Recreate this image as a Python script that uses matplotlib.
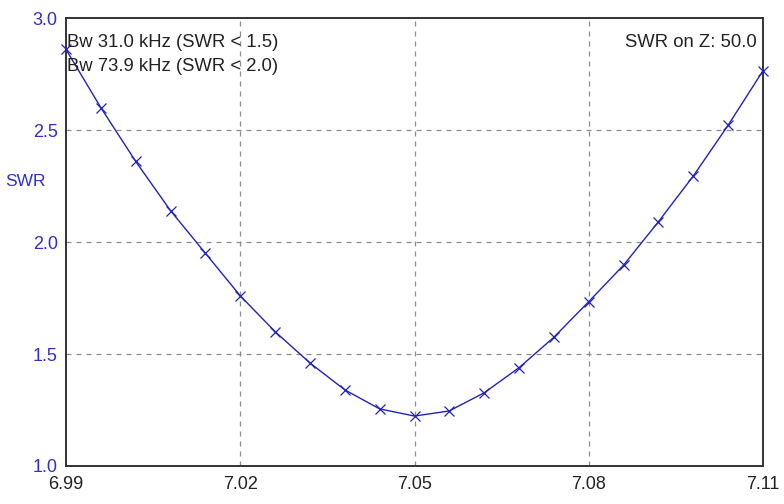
import matplotlib.pyplot as plt

# SWR sweep (MHz, SWR)
freq = [6.990, 6.996, 7.002, 7.008, 7.014, 7.020, 7.026, 7.032, 7.038, 7.044,
        7.050, 7.056, 7.062, 7.068, 7.074, 7.080, 7.086, 7.092, 7.098, 7.104, 7.110]
swr = [2.86, 2.60, 2.36, 2.14, 1.95, 1.76, 1.60, 1.46, 1.34, 1.255,
       1.223, 1.246, 1.327, 1.439, 1.575, 1.734, 1.897, 2.091, 2.295, 2.522, 2.765]

x_ticks = [6.99, 7.02, 7.05, 7.08, 7.11]
y_ticks = [1.0, 1.5, 2.0, 2.5, 3.0]

bw_lines = ['Bw 31.0 kHz (SWR < 1.5)', 'Bw 73.9 kHz (SWR < 2.0)']
z_text = 'SWR on Z: 50.0'

line_col = '#2222b8'
label_col = '#3030c8'

plt.rcParams['font.family'] = ['Liberation Sans', 'DejaVu Sans']

fig = plt.figure(figsize=(7.84, 5.04), dpi=100)
ax = fig.add_axes([0.0842, 0.0754, 0.8890, 0.8886])

ax.plot(freq, swr, color=line_col, linewidth=1.0, marker='x', markersize=7,
        markeredgewidth=0.9, clip_on=False, zorder=3)

ax.set_xlim(6.99, 7.11)
ax.set_ylim(1.0, 3.0)
ax.set_xticks(x_ticks)
ax.set_xticklabels(['%.2f' % v for v in x_ticks])
ax.set_yticks(y_ticks)
ax.set_yticklabels(['%.1f' % v for v in y_ticks])
ax.tick_params(axis='both', length=0, labelsize=13)
ax.tick_params(axis='x', pad=7, colors='#222222')
ax.tick_params(axis='y', pad=6, labelcolor=label_col)

# grid only on inner ticks
for xv in x_ticks[1:-1]:
    ax.axvline(xv, color='#8c8c8c', linestyle=(0, (4, 4)), linewidth=0.9, zorder=1)
for yv in y_ticks[1:-1]:
    ax.axhline(yv, color='#8c8c8c', linestyle=(0, (4, 4)), linewidth=0.9, zorder=1)

for s in ax.spines.values():
    s.set_color('#333333')
    s.set_linewidth(1.4)

fig.text(25 / 784, 1 - 181 / 504, 'SWR', color=label_col, fontsize=12.5,
         ha='center', va='center')

ax.text(0.002, 0.935, bw_lines[0], transform=ax.transAxes, ha='left',
        va='baseline', fontsize=13.3, color='#222222', zorder=4)
ax.text(0.002, 0.882, bw_lines[1], transform=ax.transAxes, ha='left',
        va='baseline', fontsize=13.3, color='#222222', zorder=4)
ax.text(0.991, 0.935, z_text, transform=ax.transAxes,
        ha='right', va='baseline', fontsize=13.3, color='#222222', zorder=4)

fig.savefig('out.png', dpi=100)
